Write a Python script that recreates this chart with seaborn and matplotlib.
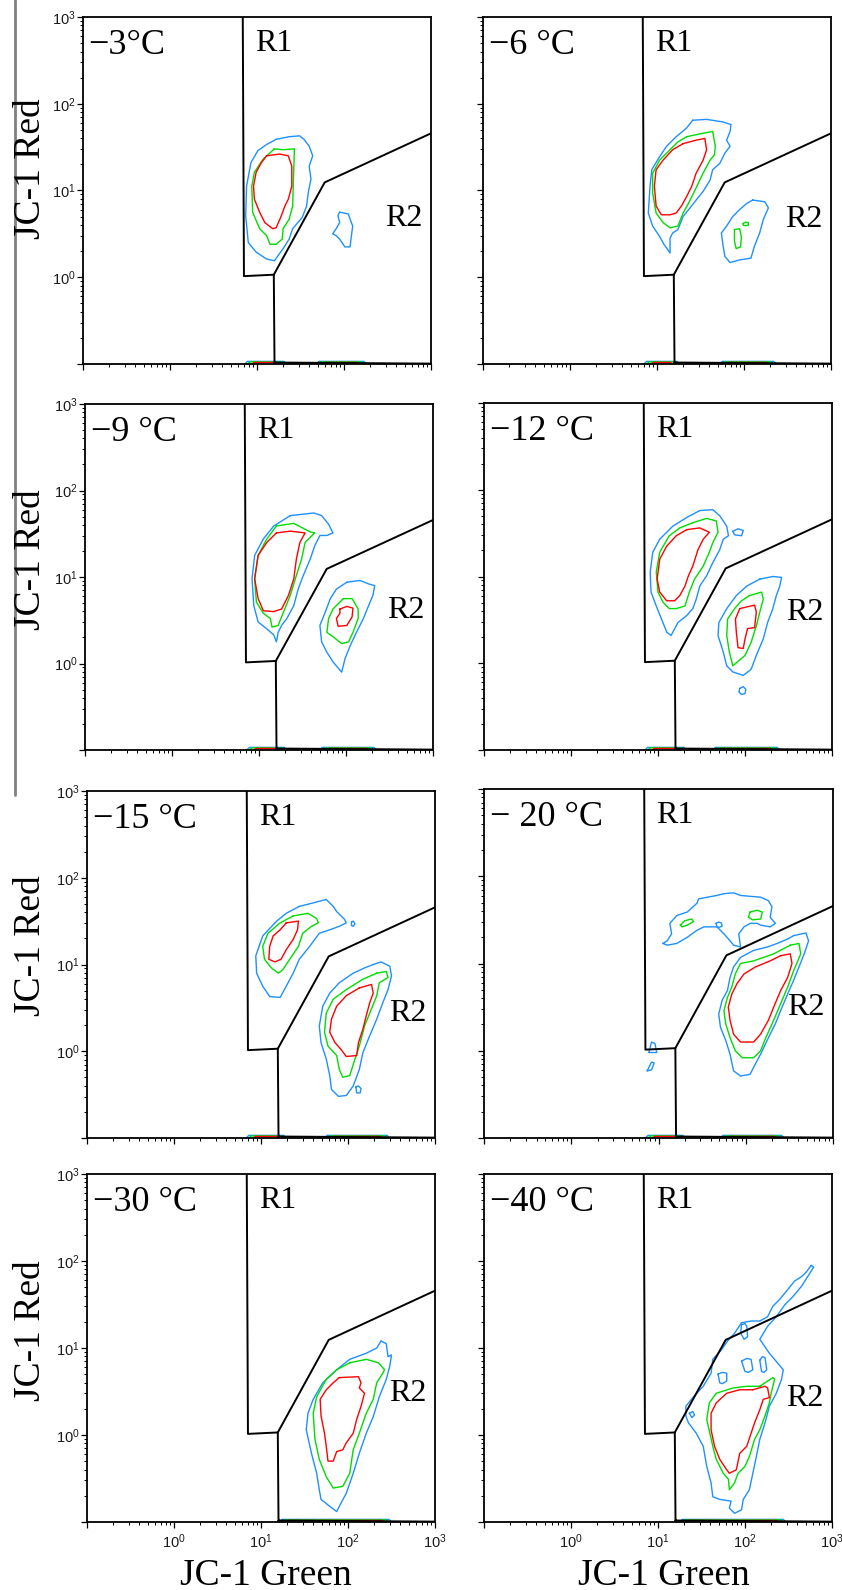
import numpy as np
import pandas as pd
import matplotlib
matplotlib.use("Agg")
import matplotlib.pyplot as plt
import seaborn as sns
from matplotlib.ticker import LogLocator, FuncFormatter, NullFormatter
from matplotlib.lines import Line2D

# ---------------- data (log10 JC-1 Green, log10 JC-1 Red) ----------------
titles = ["\u22123\u00b0C", "\u22126 \u00b0C", "\u22129 \u00b0C", "\u221212 \u00b0C",
          "\u221215 \u00b0C", "\u2212 20 \u00b0C", "\u221230 \u00b0C", "\u221240 \u00b0C"]

# gates (JC-1 Green, JC-1 Red)
gate_r1_x = [6.86, 7.08, 15.6, 60.0, 1000.0]
gate_r1_y = [1000.0, 1.03, 1.07, 12.4, 45.6]
gate_r2_x = [15.6, 15.9, 15.9, 1000.0]
gate_r2_y = [1.07, 0.1, 0.104, 0.101]

# R2 label height (log10 red) per panel
r2_label_ly = [0.68, 0.66, 0.61, 0.59, 0.44, 0.50, 0.48, 0.42]

# ---- -3 C ----
p1_r1_blue = [(1.22,1.59),(1.37,1.62),(1.49,1.63),(1.54,1.59),(1.60,1.51),(1.64,1.40),(1.60,1.28),(1.62,1.13),(1.59,0.98),(1.57,0.82),(1.52,0.69),(1.41,0.56),(1.37,0.44),(1.30,0.33),(1.20,0.19),(1.11,0.21),(0.99,0.29),(0.90,0.40),(0.87,0.71),(0.88,1.05),(0.93,1.32),(1.01,1.46),(1.11,1.53)]
p1_r1_green = [(1.20,1.48),(1.30,1.47),(1.43,1.48),(1.42,1.17),(1.41,0.82),(1.37,0.67),(1.30,0.56),(1.29,0.44),(1.22,0.38),(1.15,0.38),(1.11,0.48),(1.03,0.56),(0.95,0.75),(0.94,1.05),(0.97,1.21),(1.07,1.36)]
p1_r1_red = [(1.11,1.40),(1.26,1.42),(1.36,1.40),(1.40,1.28),(1.40,1.05),(1.36,0.90),(1.32,0.82),(1.28,0.71),(1.22,0.57),(1.18,0.56),(1.09,0.63),(1.03,0.75),(0.97,0.90),(0.96,1.05),(0.99,1.21),(1.05,1.32)]
p1_r2_blue = [(1.95,0.75),(2.05,0.73),(2.07,0.67),(2.10,0.59),(2.08,0.44),(2.07,0.35),(2.01,0.35),(1.95,0.44),(1.91,0.48),(1.87,0.50),(1.91,0.56),(1.95,0.63),(1.93,0.71)]

# ---- -6 C ----
p2_r1_blue = [(1.41,1.81),(1.57,1.82),(1.76,1.79),(1.85,1.76),(1.84,1.68),(1.80,1.58),(1.84,1.51),(1.78,1.43),(1.72,1.31),(1.64,1.24),(1.61,1.12),(1.53,0.99),(1.45,0.89),(1.38,0.80),(1.30,0.70),(1.24,0.55),(1.18,0.51),(1.15,0.45),(1.15,0.28),(1.08,0.38),(1.03,0.47),(0.95,0.59),(0.90,0.74),(0.92,1.05),(0.94,1.24),(1.03,1.39),(1.11,1.51),(1.22,1.62),(1.34,1.72)]
p2_r1_green = [(1.34,1.62),(1.53,1.66),(1.64,1.68),(1.67,1.51),(1.66,1.41),(1.61,1.35),(1.53,1.20),(1.43,0.99),(1.36,0.85),(1.30,0.74),(1.24,0.59),(1.15,0.57),(1.07,0.63),(0.99,0.74),(0.95,0.97),(0.95,1.20),(1.03,1.35),(1.15,1.47),(1.24,1.56)]
p2_r1_red = [(1.30,1.54),(1.45,1.58),(1.55,1.60),(1.57,1.47),(1.53,1.35),(1.45,1.20),(1.40,1.05),(1.34,0.93),(1.28,0.82),(1.22,0.74),(1.15,0.72),(1.05,0.72),(0.99,0.82),(0.97,1.05),(0.99,1.24),(1.07,1.35),(1.18,1.47)]
p2_r2_blue = [(2.10,0.89),(2.24,0.87),(2.28,0.80),(2.22,0.66),(2.18,0.51),(2.12,0.36),(2.08,0.22),(1.95,0.20),(1.84,0.17),(1.78,0.24),(1.76,0.36),(1.74,0.51),(1.80,0.59),(1.87,0.70),(1.95,0.78),(2.03,0.85)]
p2_r2_green = [(1.89,0.55),(1.95,0.56),(1.97,0.46),(1.96,0.35),(1.91,0.33),(1.89,0.42)]
p2_r2_green2 = [(1.99,0.62),(2.02,0.635),(2.05,0.63),(2.05,0.60),(2.02,0.595),(1.99,0.60)]

# ---- -9 C ----
p3_r1_blue = [(1.36,1.71),(1.63,1.74),(1.72,1.71),(1.80,1.61),(1.85,1.51),(1.78,1.48),(1.70,1.48),(1.64,1.36),(1.59,1.21),(1.51,1.02),(1.45,0.86),(1.40,0.67),(1.32,0.52),(1.26,0.44),(1.22,0.36),(1.20,0.25),(1.17,0.33),(1.09,0.40),(0.99,0.48),(0.94,0.67),(0.92,0.98),(0.95,1.25),(1.05,1.44),(1.17,1.59)]
p3_r1_green = [(1.20,1.59),(1.40,1.62),(1.59,1.52),(1.64,1.51),(1.53,1.40),(1.49,1.21),(1.43,1.02),(1.36,0.79),(1.28,0.59),(1.22,0.44),(1.15,0.42),(1.13,0.52),(1.05,0.58),(0.97,0.71),(0.95,0.98),(0.99,1.25),(1.09,1.44)]
p3_r1_red = [(1.20,1.51),(1.36,1.53),(1.53,1.51),(1.47,1.40),(1.43,1.21),(1.40,0.98),(1.34,0.79),(1.26,0.63),(1.17,0.60),(1.05,0.61),(0.99,0.75),(0.95,0.98),(0.99,1.25),(1.09,1.40)]
p3_r2_blue = [(2.01,0.94),(2.16,0.96),(2.26,0.92),(2.33,0.90),(2.31,0.79),(2.26,0.67),(2.20,0.52),(2.12,0.36),(2.05,0.21),(1.99,0.06),(1.95,-0.10),(1.85,0.02),(1.78,0.13),(1.72,0.25),(1.70,0.44),(1.76,0.59),(1.82,0.75),(1.89,0.86)]
p3_r2_green = [(1.97,0.75),(2.07,0.75),(2.14,0.63),(2.14,0.52),(2.08,0.36),(2.03,0.25),(1.95,0.23),(1.85,0.31),(1.78,0.36),(1.80,0.52),(1.85,0.63)]
p3_r2_red = [(1.93,0.63),(2.01,0.66),(2.08,0.64),(2.07,0.54),(2.01,0.44),(1.91,0.43),(1.89,0.52),(1.93,0.58)]

# ---- -12 C ----
p4_r1_blue = [(1.48,1.76),(1.63,1.77),(1.71,1.70),(1.79,1.58),(1.81,1.47),(1.75,1.43),(1.71,1.31),(1.63,1.16),(1.56,1.01),(1.48,0.89),(1.44,0.74),(1.40,0.63),(1.33,0.55),(1.23,0.47),(1.15,0.32),(1.10,0.36),(1.04,0.51),(0.98,0.66),(0.92,0.82),(0.91,1.05),(0.94,1.28),(1.02,1.43),(1.17,1.58),(1.33,1.68)]
p4_r1_blue2 = [(1.86,1.52),(1.92,1.55),(1.98,1.53),(1.96,1.47),(1.88,1.48)]
p4_r1_green = [(1.40,1.62),(1.56,1.67),(1.67,1.64),(1.69,1.51),(1.63,1.39),(1.59,1.28),(1.52,1.12),(1.42,0.97),(1.36,0.82),(1.31,0.66),(1.21,0.63),(1.13,0.63),(1.06,0.70),(1.00,0.82),(0.98,1.05),(1.02,1.28),(1.13,1.47),(1.25,1.56)]
p4_r1_red = [(1.33,1.54),(1.48,1.56),(1.59,1.51),(1.52,1.43),(1.46,1.31),(1.40,1.12),(1.35,1.01),(1.31,0.89),(1.25,0.78),(1.19,0.72),(1.10,0.72),(1.02,0.82),(0.99,0.97),(1.02,1.20),(1.10,1.35),(1.21,1.47)]
p4_r2_blue = [(2.17,0.97),(2.32,1.00),(2.42,0.99),(2.40,0.89),(2.36,0.78),(2.32,0.63),(2.26,0.47),(2.21,0.28),(2.13,0.09),(2.07,-0.07),(1.98,-0.14),(1.86,-0.10),(1.79,-0.03),(1.75,0.13),(1.69,0.32),(1.70,0.47),(1.79,0.63),(1.90,0.78),(2.02,0.89)]
p4_r2_blue2 = [(1.94,-0.29),(1.98,-0.27),(2.01,-0.30),(2.00,-0.35),(1.96,-0.36),(1.93,-0.33)]
p4_r2_green = [(2.05,0.78),(2.19,0.82),(2.21,0.74),(2.17,0.59),(2.13,0.43),(2.07,0.24),(2.00,0.09),(1.86,-0.03),(1.82,0.13),(1.79,0.32),(1.80,0.51),(1.88,0.63),(1.96,0.72)]
p4_r2_red = [(1.94,0.63),(2.11,0.67),(2.13,0.59),(2.11,0.41),(2.03,0.40),(2.00,0.28),(1.98,0.17),(1.92,0.18),(1.90,0.36),(1.89,0.51)]

# ---- -15 C ----
p5_r1_blue = [(1.44,1.67),(1.60,1.71),(1.75,1.75),(1.83,1.67),(1.87,1.61),(1.92,1.56),(1.96,1.52),(1.98,1.48),(1.90,1.44),(1.79,1.40),(1.67,1.36),(1.56,1.21),(1.44,1.06),(1.37,0.90),(1.29,0.75),(1.22,0.62),(1.10,0.63),(1.02,0.75),(0.95,0.90),(0.94,1.10),(1.02,1.33),(1.18,1.50),(1.29,1.59)]
p5_r1_blue2 = [(2.04,1.49),(2.06,1.50),(2.08,1.47),(2.06,1.44),(2.04,1.45)]
p5_r1_green = [(1.37,1.56),(1.54,1.59),(1.64,1.53),(1.66,1.48),(1.58,1.44),(1.48,1.36),(1.43,1.21),(1.33,1.06),(1.25,0.94),(1.20,0.90),(1.12,0.96),(1.04,1.06),(1.02,1.21),(1.08,1.36),(1.22,1.48)]
p5_r1_red = [(1.29,1.48),(1.43,1.50),(1.42,1.40),(1.37,1.29),(1.29,1.17),(1.23,1.06),(1.16,1.03),(1.09,1.06),(1.10,1.21),(1.14,1.33),(1.22,1.40)]
p5_r2_blue = [(2.29,1.00),(2.38,1.03),(2.48,0.98),(2.50,0.87),(2.46,0.71),(2.40,0.56),(2.33,0.37),(2.25,0.18),(2.17,-0.02),(2.13,-0.21),(2.06,-0.40),(1.98,-0.51),(1.89,-0.52),(1.81,-0.44),(1.79,-0.28),(1.75,-0.09),(1.69,0.10),(1.67,0.29),(1.71,0.52),(1.79,0.67),(1.90,0.79),(2.06,0.90),(2.19,0.96)]
p5_r2_blue2 = [(2.09,-0.41),(2.12,-0.40),(2.15,-0.43),(2.14,-0.48),(2.10,-0.48)]
p5_r2_green = [(2.33,0.90),(2.44,0.92),(2.46,0.85),(2.36,0.79),(2.33,0.64),(2.25,0.44),(2.19,0.29),(2.13,0.06),(2.08,-0.09),(2.02,-0.28),(1.94,-0.30),(1.90,-0.21),(1.87,-0.05),(1.77,0.06),(1.73,0.22),(1.75,0.44),(1.83,0.60),(1.98,0.71),(2.17,0.83)]
p5_r2_red = [(2.13,0.73),(2.27,0.77),(2.29,0.67),(2.25,0.56),(2.21,0.41),(2.17,0.25),(2.12,0.10),(2.10,-0.05),(1.98,-0.06),(1.92,0.02),(1.85,0.10),(1.79,0.22),(1.81,0.37),(1.87,0.52),(1.98,0.64)]

# ---- -20 C ----
p6_r1_blue = [(1.05,1.23),(1.10,1.26),(1.15,1.34),(1.13,1.46),(1.21,1.55),(1.33,1.59),(1.44,1.69),(1.46,1.74),(1.56,1.76),(1.67,1.78),(1.75,1.80),(1.86,1.81),(1.94,1.78),(2.05,1.77),(2.17,1.76),(2.26,1.72),(2.30,1.65),(2.28,1.53),(2.34,1.46),(2.28,1.42),(2.17,1.44),(2.13,1.46),(2.05,1.46),(1.98,1.42),(1.92,1.34),(1.94,1.19),(1.86,1.21),(1.82,1.26),(1.75,1.34),(1.67,1.42),(1.52,1.42),(1.44,1.38),(1.33,1.30),(1.21,1.23),(1.10,1.21)]
p6_r1_blue2 = [(1.66,1.46),(1.69,1.475),(1.72,1.465),(1.73,1.43),(1.70,1.415),(1.67,1.42)]
p6_r1_green = [(1.25,1.44),(1.30,1.49),(1.38,1.51),(1.40,1.48),(1.33,1.44),(1.27,1.42)]
p6_r1_green2 = [(2.05,1.59),(2.13,1.61),(2.19,1.59),(2.17,1.51),(2.08,1.50),(2.03,1.53)]
p6_r2_blue = [(2.55,1.32),(2.69,1.35),(2.72,1.26),(2.67,1.11),(2.61,0.96),(2.55,0.81),(2.48,0.65),(2.40,0.46),(2.34,0.31),(2.26,0.15),(2.17,-0.04),(2.09,-0.19),(2.05,-0.27),(1.94,-0.29),(1.86,-0.23),(1.82,-0.04),(1.77,0.12),(1.71,0.27),(1.69,0.42),(1.73,0.58),(1.79,0.69),(1.82,0.84),(1.86,0.96),(1.94,1.07),(2.09,1.15),(2.25,1.19),(2.36,1.23),(2.48,1.28)]
p6_r2_green = [(2.51,1.21),(2.61,1.23),(2.63,1.11),(2.55,0.92),(2.48,0.73),(2.40,0.54),(2.32,0.35),(2.23,0.15),(2.17,0.00),(2.09,-0.08),(1.96,-0.08),(1.88,0.00),(1.82,0.15),(1.77,0.31),(1.75,0.46),(1.79,0.61),(1.84,0.73),(1.88,0.88),(1.94,1.00),(2.09,1.03),(2.32,1.11)]
p6_r2_red = [(2.40,1.09),(2.51,1.11),(2.53,1.00),(2.48,0.84),(2.40,0.69),(2.32,0.50),(2.26,0.35),(2.17,0.19),(2.09,0.10),(1.94,0.10),(1.86,0.19),(1.82,0.35),(1.80,0.50),(1.84,0.65),(1.90,0.77),(1.98,0.88),(2.11,0.96),(2.28,1.03)]
p6_x_blue = [(0.89,-0.02),(0.92,0.10),(0.96,0.08),(0.98,-0.02)]
p6_x_blue2 = [(0.87,-0.23),(0.92,-0.13),(0.95,-0.14),(0.92,-0.22)]

# ---- -30 C ----
p7_r2_blue = [(2.38,1.08),(2.44,1.05),(2.46,0.90),(2.50,0.92),(2.48,0.79),(2.44,0.64),(2.36,0.44),(2.29,0.21),(2.21,0.02),(2.13,-0.21),(2.06,-0.44),(1.98,-0.67),(1.90,-0.82),(1.87,-0.88),(1.79,-0.82),(1.69,-0.74),(1.67,-0.63),(1.64,-0.44),(1.58,-0.21),(1.52,0.06),(1.54,0.25),(1.60,0.41),(1.71,0.60),(1.87,0.75),(2.02,0.87),(2.21,0.94),(2.33,1.00)]
p7_r2_green = [(2.02,0.83),(2.21,0.87),(2.35,0.83),(2.42,0.75),(2.40,0.71),(2.33,0.60),(2.29,0.41),(2.21,0.25),(2.13,0.02),(2.06,-0.17),(2.02,-0.44),(1.94,-0.59),(1.83,-0.61),(1.75,-0.48),(1.67,-0.28),(1.62,-0.05),(1.60,0.25),(1.64,0.44),(1.75,0.64),(1.87,0.75)]
p7_r2_red = [(1.90,0.66),(2.12,0.67),(2.15,0.60),(2.13,0.54),(2.19,0.48),(2.15,0.33),(2.10,0.18),(2.06,0.02),(1.98,-0.09),(1.94,-0.17),(1.87,-0.19),(1.83,-0.30),(1.77,-0.30),(1.75,-0.13),(1.73,0.02),(1.69,0.22),(1.68,0.41),(1.75,0.52),(1.83,0.60)]

# ---- -40 C ----
p8_r2_blue = [(2.76,1.95),(2.79,1.93),(2.72,1.82),(2.65,1.71),(2.55,1.59),(2.46,1.50),(2.36,1.36),(2.26,1.25),(2.17,1.10),(2.28,0.94),(2.44,0.75),(2.42,0.64),(2.36,0.48),(2.28,0.33),(2.23,0.14),(2.17,-0.05),(2.13,-0.25),(2.09,-0.44),(2.05,-0.63),(1.98,-0.74),(1.96,-0.86),(1.88,-0.90),(1.82,-0.84),(1.84,-0.76),(1.71,-0.74),(1.63,-0.71),(1.61,-0.55),(1.56,-0.36),(1.52,-0.13),(1.44,0.02),(1.35,0.14),(1.32,0.22),(1.32,0.33),(1.40,0.43),(1.52,0.56),(1.61,0.71),(1.63,0.87),(1.73,0.98),(1.80,1.08),(1.88,1.17),(1.96,1.29),(2.07,1.31),(2.17,1.31),(2.26,1.36),(2.32,1.48),(2.40,1.56),(2.49,1.67),(2.57,1.77),(2.65,1.82),(2.71,1.88)]
p8_r2_blue2 = [(1.96,1.27),(2.00,1.28),(2.02,1.25),(2.03,1.13),(1.99,1.10),(1.95,1.17)]
p8_r2_blue3 = [(1.69,0.70),(1.74,0.72),(1.79,0.71),(1.79,0.62),(1.74,0.59),(1.71,0.60)]
p8_r2_blue4 = [(1.96,0.85),(2.02,0.88),(2.07,0.87),(2.09,0.75),(2.04,0.72),(2.00,0.73)]
p8_r2_blue5 = [(2.17,0.86),(2.20,0.90),(2.23,0.89),(2.25,0.75),(2.22,0.72),(2.19,0.73)]
p8_r2_blue6 = [(1.36,0.25),(1.40,0.27),(1.42,0.23),(1.39,0.20)]
p8_r2_green = [(2.17,0.56),(2.32,0.66),(2.34,0.64),(2.30,0.48),(2.28,0.37),(2.23,0.22),(2.17,0.06),(2.11,-0.05),(2.05,-0.25),(2.00,-0.36),(1.92,-0.44),(1.88,-0.55),(1.82,-0.63),(1.81,-0.51),(1.75,-0.44),(1.67,-0.28),(1.63,-0.13),(1.56,0.18),(1.59,0.37),(1.67,0.48),(1.86,0.54),(2.02,0.56)]
p8_r2_red = [(2.09,0.52),(2.23,0.56),(2.26,0.54),(2.28,0.43),(2.21,0.41),(2.17,0.29),(2.11,0.14),(2.07,0.02),(2.02,-0.13),(1.94,-0.21),(1.90,-0.40),(1.82,-0.44),(1.79,-0.40),(1.71,-0.28),(1.65,-0.13),(1.61,0.06),(1.61,0.25),(1.67,0.37),(1.79,0.48),(1.94,0.52)]

# events piled on the lower axis: (log10 green start, end) per panel
pile_lo = [[0.86, 1.68], [0.85, 1.72], [0.86, 1.70], [0.85, 1.63], [0.83, 1.73], [0.85, 1.71], [1.21], [1.25]]
pile_hi = [[1.34, 2.26], [1.26, 2.37], [1.32, 2.35], [1.33, 2.40], [1.29, 2.48], [1.31, 2.44], [2.50], [2.47]]

panel_contours = [
    [("blue", p1_r1_blue), ("green", p1_r1_green), ("red", p1_r1_red), ("blue", p1_r2_blue)],
    [("blue", p2_r1_blue), ("green", p2_r1_green), ("red", p2_r1_red), ("blue", p2_r2_blue),
     ("green", p2_r2_green), ("green", p2_r2_green2)],
    [("blue", p3_r1_blue), ("green", p3_r1_green), ("red", p3_r1_red), ("blue", p3_r2_blue),
     ("green", p3_r2_green), ("red", p3_r2_red)],
    [("blue", p4_r1_blue), ("blue", p4_r1_blue2), ("green", p4_r1_green), ("red", p4_r1_red),
     ("blue", p4_r2_blue), ("blue", p4_r2_blue2), ("green", p4_r2_green), ("red", p4_r2_red)],
    [("blue", p5_r1_blue), ("blue", p5_r1_blue2), ("green", p5_r1_green), ("red", p5_r1_red),
     ("blue", p5_r2_blue), ("blue", p5_r2_blue2), ("green", p5_r2_green), ("red", p5_r2_red)],
    [("blue", p6_r1_blue), ("blue", p6_r1_blue2), ("green", p6_r1_green), ("green", p6_r1_green2),
     ("blue", p6_r2_blue), ("green", p6_r2_green), ("red", p6_r2_red),
     ("blue", p6_x_blue), ("blue", p6_x_blue2)],
    [("blue", p7_r2_blue), ("green", p7_r2_green), ("red", p7_r2_red)],
    [("blue", p8_r2_blue), ("blue", p8_r2_blue2), ("blue", p8_r2_blue3), ("blue", p8_r2_blue4),
     ("blue", p8_r2_blue5), ("blue", p8_r2_blue6), ("green", p8_r2_green), ("red", p8_r2_red)],
]

# ---------------- style ----------------
sns.set_style("ticks")
plt.rcParams["font.family"] = ["Liberation Serif", "DejaVu Serif"]
plt.rcParams["mathtext.fontset"] = "custom"
plt.rcParams["mathtext.rm"] = "Liberation Sans"
plt.rcParams["mathtext.it"] = "Liberation Sans:italic"
plt.rcParams["mathtext.bf"] = "Liberation Sans:bold"
plt.rcParams["mathtext.default"] = "rm"
plt.rcParams["axes.linewidth"] = 1.3

palette = {"blue": "#1e90ff", "green": "#00dd00", "red": "#ff0000"}
W, H = 842, 1590
boxes = [(83, 17, 348, 347), (483, 17, 348, 347),
         (85, 404, 348, 346), (484, 403, 348, 347),
         (87, 791, 348, 347), (484, 789, 349, 349),
         (87, 1174, 348, 348), (484, 1174, 348, 348)]

fig = plt.figure(figsize=(W / 100, H / 100), dpi=100)


def tick_fmt(v, pos):
    n = int(round(np.log10(v)))
    return r"$10^{%d}$" % n if n >= 0 else ""


for i, (l, t, w, h) in enumerate(boxes):
    ax = fig.add_axes([l / W, 1 - (t + h) / H, w / W, h / H])
    ax.set_xscale("log")
    ax.set_yscale("log")

    rows = []
    for k, (lvl, pts) in enumerate(panel_contours[i]):
        closed = list(pts) + [pts[0]]
        for j, (lx, ly) in enumerate(closed):
            rows.append(dict(x=10 ** lx, y=10 ** ly, poly=f"c{k}", level=lvl, order=j))
    # piles at the bottom edge
    for k, (a, b) in enumerate(zip(pile_lo[i], pile_hi[i])):
        for lvl, inset, top in (("blue", 0.0, -0.970), ("green", 0.03, -0.976), ("red", 0.08, -0.982)):
            shape = [(a + inset, -1.0), (a + inset + 0.03, top), (b - inset - 0.03, top), (b - inset, -1.0)]
            for j, (lx, ly) in enumerate(shape):
                rows.append(dict(x=10 ** lx, y=10 ** ly, poly=f"p{k}{lvl}", level=lvl, order=j))
    df = pd.DataFrame(rows)
    sns.lineplot(data=df, x="x", y="y", units="poly", hue="level",
                 hue_order=["blue", "green", "red"], palette=palette,
                 estimator=None, sort=False, legend=False, linewidth=1.0, ax=ax)

    # gates
    sns.lineplot(x=gate_r1_x, y=gate_r1_y, sort=False, estimator=None,
                 color="black", linewidth=1.4, ax=ax)
    sns.lineplot(x=gate_r2_x, y=gate_r2_y, sort=False, estimator=None,
                 color="black", linewidth=1.4, ax=ax)

    ax.set_xlim(0.1, 1000)
    ax.set_ylim(0.1, 1000)
    ax.set_xlabel("")
    ax.set_ylabel("")
    for s in ax.spines.values():
        s.set_color("black")
        s.set_linewidth(1.3)

    for axis in (ax.xaxis, ax.yaxis):
        axis.set_major_locator(LogLocator(base=10, numticks=10))
        axis.set_minor_locator(LogLocator(base=10, subs=np.arange(2, 10), numticks=20))
        axis.set_minor_formatter(NullFormatter())
        axis.set_major_formatter(FuncFormatter(tick_fmt))
    ax.tick_params(which="major", direction="out", length=4.2, width=0.9, colors="black",
                   labelsize=10.5, labelcolor="#1a1a1a")
    ax.tick_params(which="minor", direction="out", length=2.3, width=0.7, colors="black")
    ax.tick_params(axis="y", pad=1)
    ax.tick_params(axis="x", pad=3)
    if i % 2 == 1:
        ax.tick_params(axis="y", labelleft=False)
    if i < 6:
        ax.tick_params(axis="x", labelbottom=False)

    ax.text(0.016, 0.965, titles[i], transform=ax.transAxes, ha="left", va="top",
            fontsize=26, color="black")
    ax.text(9.4, 0.965, "R1", transform=ax.get_xaxis_transform(), ha="left", va="top",
            fontsize=23, color="black")
    ax.text(10 ** 2.47, 10 ** r2_label_ly[i], "R2", ha="left", va="center",
            fontsize=23, color="black")

# axis titles
for yc in (169, 560, 946, 1331):
    fig.text(31 / W, 1 - yc / H, "JC-1 Red", rotation=90, ha="center", va="center",
             fontsize=27, color="black")
for xc in (266, 664):
    fig.text(xc / W, 1 - 1585 / H, "JC-1 Green", ha="center", va="baseline",
             fontsize=27, color="black")

# thin grey rule at the far left
fig.add_artist(Line2D([15 / W, 15 / W], [1.0, 1 - 795 / H], transform=fig.transFigure,
                      color="#808080", linewidth=2.0))

fig.savefig("out.png", dpi=100)
